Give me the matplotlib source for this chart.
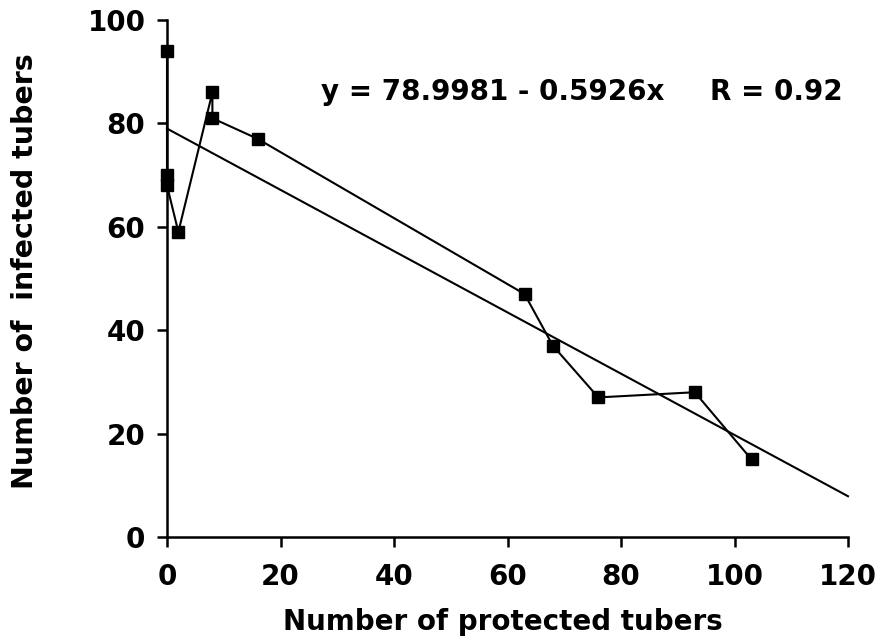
import matplotlib
matplotlib.use("Agg")
import matplotlib.pyplot as plt
import numpy as np

# Data
protected = [0, 0, 0, 2, 8, 8, 16, 63, 68, 76, 93, 103]
infected = [94, 70, 68, 59, 86, 81, 77, 47, 37, 27, 28, 15]
intercept = 78.9981
slope = -0.5926
fit_x = [0, 120]
xticks = [0, 20, 40, 60, 80, 100, 120]
yticks = [0, 20, 40, 60, 80, 100]
eq_text = "y = 78.9981 - 0.5926x"
r_text = "R = 0.92"

plt.rcParams['font.family'] = ['DejaVu Sans']
plt.rcParams['font.weight'] = 'bold'

fig = plt.figure(figsize=(8.84, 6.44), dpi=100)
ax = fig.add_axes([167/884, 1-537/644, (848-167)/884, (537-20)/644])

fx = np.array(fit_x, dtype=float)
ax.plot(fx, intercept + slope*fx, color='black', lw=1.5, clip_on=False)
ax.plot(protected, infected, color='black', lw=1.5, marker='s', markersize=9,
        clip_on=False)

ax.set_xlim(0, 120)
ax.set_ylim(0, 100)
ax.set_xticks(xticks)
ax.set_yticks(yticks)
for s in ['top', 'right']:
    ax.spines[s].set_visible(False)
for s in ['left', 'bottom']:
    ax.spines[s].set_linewidth(1.8)
ax.tick_params(direction='out', length=7.5, width=1.8, labelsize=20)
ax.tick_params(axis='x', pad=11)
ax.tick_params(axis='y', pad=8)
for lab in ax.get_xticklabels() + ax.get_yticklabels():
    lab.set_fontweight('bold')

ax.text(27.2, 86, eq_text, fontsize=20, fontweight='bold', va='center', ha='left')
ax.text(95.7, 86, r_text, fontsize=20, fontweight='bold', va='center', ha='left')

ax.set_xlabel("Number of protected tubers", fontsize=20, fontweight='bold')
ax.xaxis.label.set_va('center')
ax.xaxis.set_label_coords((503-167)/681, (537-622)/517)
ax.set_ylabel("Number of  infected tubers", fontsize=20.5, fontweight='bold')
ax.yaxis.label.set_va('center')
ax.yaxis.set_label_coords((25-167)/681, (537-271)/517)

fig.savefig("out.png", dpi=100)
